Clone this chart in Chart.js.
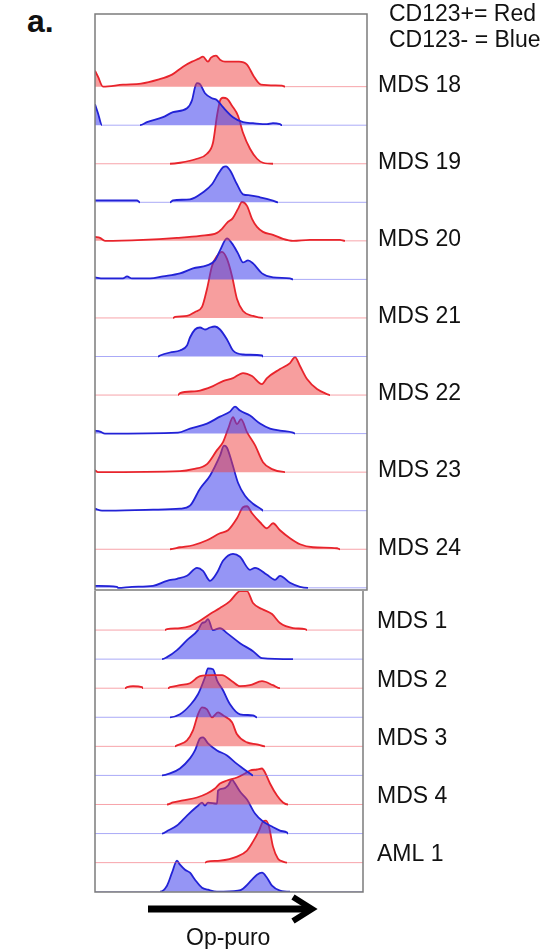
<!DOCTYPE html>
<html>
<head>
<meta charset="utf-8">
<script src="https://cdn.jsdelivr.net/npm/chart.js@4.4.1/dist/chart.umd.min.js"></script>
<style>
  body { margin: 0; background: #fff; width: 551px; height: 949px; position: relative; overflow: hidden;
         font-family: "Liberation Sans", Arial, sans-serif; color: #111; }
  .txt { position: absolute; white-space: nowrap; line-height: 1; font-size: 23px; }
  #upper { position: absolute; left: 94px; top: 13px; background: #fff; }
  #lower { position: absolute; left: 94px; top: 579px; }
  #arrow { position: absolute; left: 140px; top: 890px; }
</style>
</head>
<body>
<div class="txt" style="left:27px;top:5px;font-size:32px;font-weight:bold">a.</div>

<canvas id="lower" width="457" height="314"></canvas>
<canvas id="upper" width="457" height="578"></canvas>

<div class="txt" style="left:389px;top:2px">CD123+= Red</div>
<div class="txt" style="left:389px;top:28px">CD123- = Blue</div>

<svg id="arrow" width="190" height="40">
  <line x1="8" y1="19" x2="168" y2="19" stroke="#000" stroke-width="7"/>
  <polyline points="153,7 172,19 153,31" fill="none" stroke="#000" stroke-width="6"/>
</svg>
<div class="txt" style="left:186px;top:926px">Op-puro</div>

<script>
// sample names, one red (CD123+) and one blue (CD123-) histogram each
const upperNames = ['MDS 18', 'MDS 19', 'MDS 20', 'MDS 21', 'MDS 22', 'MDS 23', 'MDS 24']
const lowerNames = ['MDS 1', 'MDS 2', 'MDS 3', 'MDS 4', 'AML 1']

// [Op-puro channel, count]
const mds18Red = [[0,16],[3,10],[8,0],[28,2],[46,3],[63,7],[77,12],[88,20],[97,25],[104,28],[108,30],[113,25],[116,29],[121,31],[125,27],[130,25],[144,25],[152,22],[159,10],[166,2],[187,1],[190,0],[272,0]]
const mds18Blue = [[0,21],[3,12],[7,0],[45,0],[52,3],[68,8],[78,13],[92,17],[97,25],[100,38],[102,42],[105,41],[110,32],[117,27],[122,25],[128,18],[138,8],[148,3],[158,2],[172,1],[178,2],[185,1],[187,0],[272,0]]
const mds19Red = [[0,0],[75,0],[85,1],[102,5],[112,10],[118,21],[122,48],[125,63],[128,66],[132,65],[137,58],[143,48],[148,31],[155,15],[162,5],[168,1],[178,0],[272,0]]
const mds19Blue = [[0,2],[5,2],[42,2],[45,0],[75,0],[78,2],[95,3],[108,10],[117,18],[123,28],[128,35],[131,36],[135,32],[142,18],[148,8],[155,7],[165,5],[177,2],[183,0],[272,0]]
const mds20Red = [[0,4],[5,3],[10,0],[48,1],[82,3],[105,5],[122,8],[127,12],[132,18],[138,23],[143,32],[147,39],[152,35],[157,22],[162,14],[168,9],[178,6],[188,2],[198,0],[215,1],[245,1],[250,0],[272,0]]
const mds20Blue = [[0,2],[8,1],[28,1],[32,3],[37,1],[55,1],[68,3],[85,6],[98,11],[112,14],[120,19],[125,29],[132,41],[137,36],[143,26],[148,17],[153,19],[158,16],[167,6],[178,2],[195,1],[198,0],[272,0]]
const mds21Red = [[0,0],[78,0],[80,1],[92,2],[100,6],[107,11],[112,29],[117,52],[122,62],[127,66],[132,59],[137,42],[142,19],[148,7],[158,2],[168,0],[272,0]]
const mds21Blue = [[0,0],[63,0],[65,1],[75,4],[85,6],[92,11],[95,19],[100,27],[105,29],[110,27],[115,29],[120,30],[125,27],[132,17],[138,6],[148,2],[167,1],[168,0],[272,0]]
const mds22Red = [[0,0],[83,0],[85,2],[102,4],[118,9],[128,14],[138,17],[148,22],[157,19],[167,11],[172,17],[185,26],[195,32],[200,38],[205,29],[212,16],[222,6],[232,1],[235,0],[272,0]]
const mds22Blue = [[0,3],[5,2],[10,0],[83,1],[95,5],[112,10],[125,17],[135,22],[140,27],[145,23],[155,18],[165,10],[175,5],[185,3],[198,1],[200,0],[272,0]]
const mds23Red = [[0,2],[3,0],[85,1],[98,3],[112,8],[122,22],[128,30],[133,43],[138,55],[142,48],[146,53],[152,40],[160,27],[168,10],[177,3],[190,0],[272,0]]
const mds23Blue = [[0,2],[7,0],[58,1],[85,2],[95,5],[105,22],[115,35],[125,55],[129,65],[132,63],[137,48],[143,28],[150,15],[158,7],[167,1],[168,0],[272,0]]
const mds24Red = [[0,0],[75,0],[85,2],[98,4],[112,9],[125,16],[133,19],[142,31],[148,42],[152,43],[157,36],[165,27],[172,21],[178,26],[185,19],[195,11],[205,5],[218,2],[242,1],[245,0],[272,0]]
const mds24Blue = [[0,2],[22,1],[23,0],[37,1],[58,2],[72,7],[82,9],[92,12],[102,20],[108,17],[115,7],[122,15],[128,27],[138,34],[145,31],[155,18],[160,20],[172,13],[180,8],[185,12],[195,5],[205,1],[213,0],[272,0]]

const mds1Red = [[0,0],[70,0],[72,1],[85,2],[95,4],[103,8],[115,16],[125,22],[135,29],[142,37],[145,39],[152,39],[158,27],[167,21],[177,16],[185,7],[198,2],[210,1],[212,0],[268,0]]
const mds1Blue = [[0,0],[67,0],[72,2],[82,9],[92,19],[103,29],[107,36],[110,37],[113,40],[118,29],[125,31],[132,26],[145,16],[158,8],[167,1],[198,0],[268,0]]
const mds2Red = [[0,0],[30,0],[32,1],[38,2],[47,1],[48,0],[73,0],[75,1],[85,3],[95,5],[105,12],[118,13],[127,13],[137,7],[145,2],[155,3],[167,7],[178,3],[185,0],[268,0]]
const mds2Blue = [[0,0],[75,0],[85,3],[95,12],[103,23],[110,40],[113,49],[118,48],[122,37],[128,27],[135,13],[145,3],[158,2],[162,0],[268,0]]
const mds3Red = [[0,0],[80,0],[82,1],[92,6],[98,16],[103,32],[107,39],[112,37],[117,29],[123,34],[128,31],[137,24],[142,12],[152,4],[162,2],[170,0],[268,0]]
const mds3Blue = [[0,0],[67,0],[75,2],[85,7],[95,17],[100,25],[105,37],[108,38],[113,32],[122,25],[132,20],[140,13],[148,7],[155,2],[158,0],[268,0]]
const mds4Red = [[0,0],[72,0],[78,2],[88,4],[102,7],[112,11],[120,16],[125,21],[132,24],[142,27],[150,31],[155,34],[162,35],[167,36],[170,32],[175,21],[182,9],[188,2],[193,0],[268,0]]
const mds4Blue = [[0,0],[67,0],[73,3],[82,8],[92,18],[102,27],[107,31],[110,28],[113,31],[122,30],[123,43],[128,45],[133,48],[137,54],[140,50],[145,42],[152,34],[160,20],[168,12],[177,7],[185,3],[192,1],[193,0],[268,0]]
const aml1Red = [[0,0],[110,0],[112,1],[125,2],[142,6],[152,12],[158,21],[164,32],[168,41],[171,42],[174,36],[178,16],[183,4],[188,1],[192,0],[268,0]]
const aml1Blue = [[0,0],[65,0],[72,6],[77,19],[82,31],[85,27],[90,22],[95,19],[100,12],[107,4],[113,2],[122,0],[143,1],[148,3],[157,12],[162,17],[167,19],[172,14],[177,6],[185,1],[195,0],[268,0]]

const upperRed = [mds18Red, mds19Red, mds20Red, mds21Red, mds22Red, mds23Red, mds24Red]
const upperBlue = [mds18Blue, mds19Blue, mds20Blue, mds21Blue, mds22Blue, mds23Blue, mds24Blue]
const lowerRed = [mds1Red, mds2Red, mds3Red, mds4Red, aml1Red]
const lowerBlue = [mds1Blue, mds2Blue, mds3Blue, mds4Blue, aml1Blue]

const RED = { line: 'rgb(232,36,44)', fill: 'rgba(240,62,62,0.5)', pale: 'rgba(240,90,100,0.55)' }
const BLUE = { line: 'rgb(34,34,214)', fill: 'rgba(62,62,236,0.55)', pale: 'rgba(100,100,240,0.55)' }
const FONT = "'Liberation Sans', Arial, sans-serif"

const framePlugin = {
  id: 'frame',
  afterDatasetsDraw(chart, args, opts) {
    const { ctx, chartArea: a } = chart
    ctx.save()
    ctx.strokeStyle = '#7c7c7c'
    ctx.lineWidth = 1.5
    ctx.beginPath()
    ctx.moveTo(a.left, a.top)
    ctx.lineTo(a.left, a.bottom)
    ctx.lineTo(a.right, a.bottom)
    ctx.lineTo(a.right, a.top)
    if (opts.top) ctx.closePath()
    ctx.stroke()
    ctx.restore()
  },
}

function histSet(name, vals, col, off) {
  const flat = c => c.p0.parsed.y - off < 0.5 && c.p1.parsed.y - off < 0.5
  return {
    label: name,
    data: vals.map(([x, h]) => ({ x, y: off + h })),
    borderColor: col.line,
    backgroundColor: col.fill,
    borderWidth: 1.8,
    fill: { value: off },
    pointRadius: 0,
    cubicInterpolationMode: 'monotone',
    segment: {
      borderColor: c => (flat(c) ? col.pale : undefined),
      borderWidth: c => (flat(c) ? 1 : undefined),
    },
  }
}

function makeChart(id, names, reds, blues, o) {
  const rows = names.length * 2
  const offset = i => (rows - 1 - i) * o.rowGap + o.bottomGap
  const datasets = []
  const tickVals = []
  names.forEach((name, k) => {
    datasets.push(histSet(name + ' CD123+', reds[k], RED, offset(2 * k)))
    datasets.push(histSet(name + ' CD123-', blues[k], BLUE, offset(2 * k + 1)))
    tickVals.push(offset(2 * k) + o.lift)
  })

  return new Chart(document.getElementById(id), {
    type: 'line',
    data: { datasets },
    plugins: [framePlugin],
    options: {
      responsive: false,
      animation: false,
      layout: { padding: { left: 1, top: 1, bottom: 1, right: 0 } },
      scales: {
        x: { type: 'linear', min: 0, max: o.maxX, display: false },
        y: {
          type: 'linear',
          position: 'right',
          min: 0,
          max: o.maxY,
          grid: { display: false, drawTicks: false },
          border: { display: false },
          afterFit: s => {
            s.width = o.axisW
            s.paddingTop = 0
            s.paddingBottom = 0
          },
          afterBuildTicks: s => { s.ticks = tickVals.map(value => ({ value })) },
          ticks: {
            autoSkip: false,
            padding: o.pad,
            color: '#111',
            font: { family: FONT, size: 23 },
            callback: (v, i) => names[i],
          },
        },
      },
      plugins: {
        legend: { display: false },
        tooltip: { enabled: false },
        frame: { top: o.top },
      },
    },
  })
}

makeChart('lower', lowerNames, lowerRed, lowerBlue,
  { rowGap: 29.07, bottomGap: 0.3, lift: 8, maxX: 268, maxY: 312, axisW: 188, pad: 14, top: false })
makeChart('upper', upperNames, upperRed, upperBlue,
  { rowGap: 38.55, bottomGap: 2.2, lift: 1, maxX: 272, maxY: 576, axisW: 184, pad: 11, top: true })
</script>
</body>
</html>
